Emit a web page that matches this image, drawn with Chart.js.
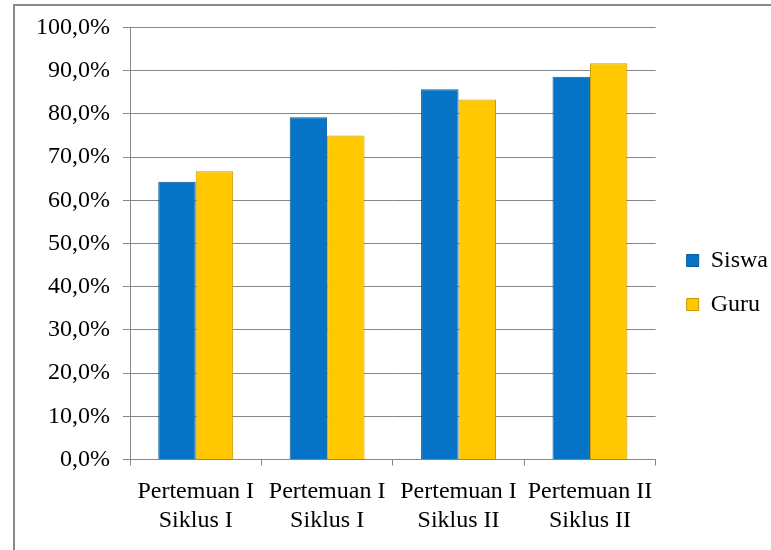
<!DOCTYPE html>
<html>
<head>
<meta charset="utf-8">
<script src="https://cdn.jsdelivr.net/npm/chart.js@4/dist/chart.umd.min.js"></script>
<style>
  html, body { margin: 0; padding: 0; background: #fff; }
  #wrap { position: relative; width: 771px; height: 550px; overflow: hidden; }
  #frame { position: absolute; left: 13px; top: 4px; width: 800px; height: 600px; border: 2px solid #8a8a8a; box-sizing: border-box; }
  #chart { position: absolute; left: 0; top: 0; }
</style>
</head>
<body>
<div id="wrap">
  <div id="frame"></div>
  <canvas id="chart" width="771" height="550"></canvas>
</div>
<script>
// data
const categories = [
  ['Pertemuan I', 'Siklus I'],
  ['Pertemuan I', 'Siklus I'],
  ['Pertemuan I', 'Siklus II'],
  ['Pertemuan II', 'Siklus II']
];
const siswa = [64.3, 79.2, 85.7, 88.6];
const guru = [66.7, 75.0, 83.3, 91.7];
const yTicks = [0, 10, 20, 30, 40, 50, 60, 70, 80, 90, 100];

const font = { family: '"Liberation Serif", "Times New Roman", serif', size: 24 };

// nudge the legend to where it sits in the original
const legendShift = {
  id: 'legendShift',
  beforeDraw(chart) {
    const lg = chart.legend;
    if (!lg) return;
    lg.left += 11;
    lg.right += 11;
    lg.top -= 6;
    lg.bottom -= 6;
  }
};

const ctx = document.getElementById('chart');
new Chart(ctx, {
  type: 'bar',
  data: {
    labels: categories,
    datasets: [
      {
        label: 'Siswa',
        data: siswa,
        backgroundColor: '#0574c6',
        borderColor: '#045a9a',
        borderWidth: 1
      },
      {
        label: 'Guru',
        data: guru,
        backgroundColor: '#ffc800',
        borderColor: '#c79a00',
        borderWidth: 1
      }
    ]
  },
  options: {
    responsive: false,
    animation: false,
    layout: { padding: { top: 27, right: 4, bottom: 0, left: 0 } },
    datasets: {
      bar: { barPercentage: 1, categoryPercentage: 0.57 }
    },
    scales: {
      x: {
        grid: { drawOnChartArea: false, drawTicks: true, tickLength: 6, color: '#868686', offset: true },
        border: { color: '#868686' },
        ticks: { color: '#000', font: font, padding: 12, maxRotation: 0, autoSkip: false },
        afterFit(scale) { scale.height = 90.5; }
      },
      y: {
        min: 0,
        max: 100,
        afterBuildTicks(scale) { scale.ticks = yTicks.map(v => ({ value: v })); },
        grid: { color: '#868686', tickLength: 7 },
        border: { color: '#868686' },
        ticks: {
          color: '#000',
          font: font,
          padding: 13,
          callback: v => v.toFixed(1).replace('.', ',') + '%'
        },
        afterFit(scale) { scale.width = 130; }
      }
    },
    plugins: {
      legend: {
        position: 'right',
        labels: {
          color: '#000',
          font: font,
          boxWidth: 12,
          boxHeight: 12,
          padding: 20
        }
      },
      tooltip: { enabled: false }
    }
  },
  plugins: [legendShift]
});
</script>
</body>
</html>
